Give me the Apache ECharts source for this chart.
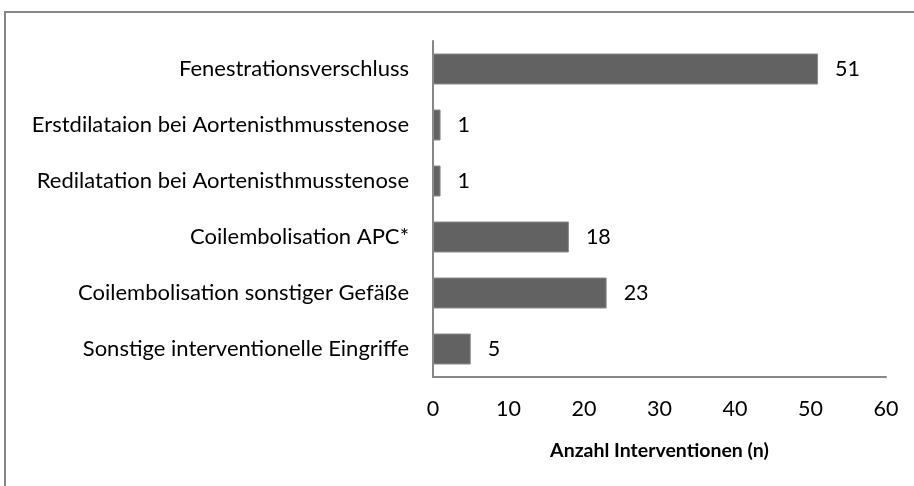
<!DOCTYPE html>
<html>
<head>
<meta charset="utf-8">
<script src="https://cdn.jsdelivr.net/npm/echarts@6/dist/echarts.min.js"></script>
<style>
  html, body { margin: 0; padding: 0; background: #fff; }
  #chart { width: 914px; height: 486px; }
</style>
</head>
<body>
<div id="chart"></div>
<script>
// Kategorien von oben nach unten
var categories = [
    'Fenestrationsverschluss',
    'Erstdilataion bei Aortenisthmusstenose',
    'Redilatation bei Aortenisthmusstenose',
    'Coilembolisation APC*',
    'Coilembolisation sonstiger Gefäße',
    'Sonstige interventionelle Eingriffe'
];
var interventionen = [51, 1, 1, 18, 23, 5];
var xTicks = [0, 10, 20, 30, 40, 50, 60];

var myChart = echarts.init(document.getElementById('chart'));
var font = 'Lato, "Open Sans", sans-serif';

var option = {
    backgroundColor: '#fff',
    animation: false,
    textStyle: { fontFamily: font },
    grid: {
        left: 433,
        right: 28,
        top: 41,
        bottom: 109
    },
    // Rahmen links und oben
    graphic: [
        {
            type: 'polyline',
            shape: { points: [[5, 486], [5, 12], [914, 12]] },
            style: { stroke: '#878787', lineWidth: 2, fill: null }
        }
    ],
    xAxis: {
        type: 'value',
        min: xTicks[0],
        max: xTicks[xTicks.length - 1],
        interval: 10,
        name: 'Anzahl Interventionen (n)',
        nameLocation: 'middle',
        nameGap: 64,
        nameTextStyle: { fontSize: 19.5, fontWeight: 'bold', color: '#000', fontFamily: font },
        splitLine: { show: false },
        axisTick: { show: false },
        axisLine: { show: true, lineStyle: { color: '#878787', width: 2 } },
        axisLabel: { fontSize: 21.5, color: '#000', margin: 21, fontFamily: font }
    },
    yAxis: {
        type: 'category',
        inverse: true,
        data: categories,
        axisTick: { show: false },
        axisLine: { show: true, lineStyle: { color: '#878787', width: 2 } },
        axisLabel: { fontSize: 22, color: '#000', margin: 24, fontFamily: font }
    },
    series: [
        {
            name: 'Anzahl',
            type: 'bar',
            data: interventionen,
            barWidth: 31,
            itemStyle: { color: '#626262', borderColor: '#8a8a8a', borderWidth: 1 },
            label: {
                show: true,
                position: 'right',
                distance: 17,
                fontSize: 21.5,
                color: '#000',
                fontFamily: font
            }
        }
    ]
};
myChart.setOption(option);
</script>
</body>
</html>
